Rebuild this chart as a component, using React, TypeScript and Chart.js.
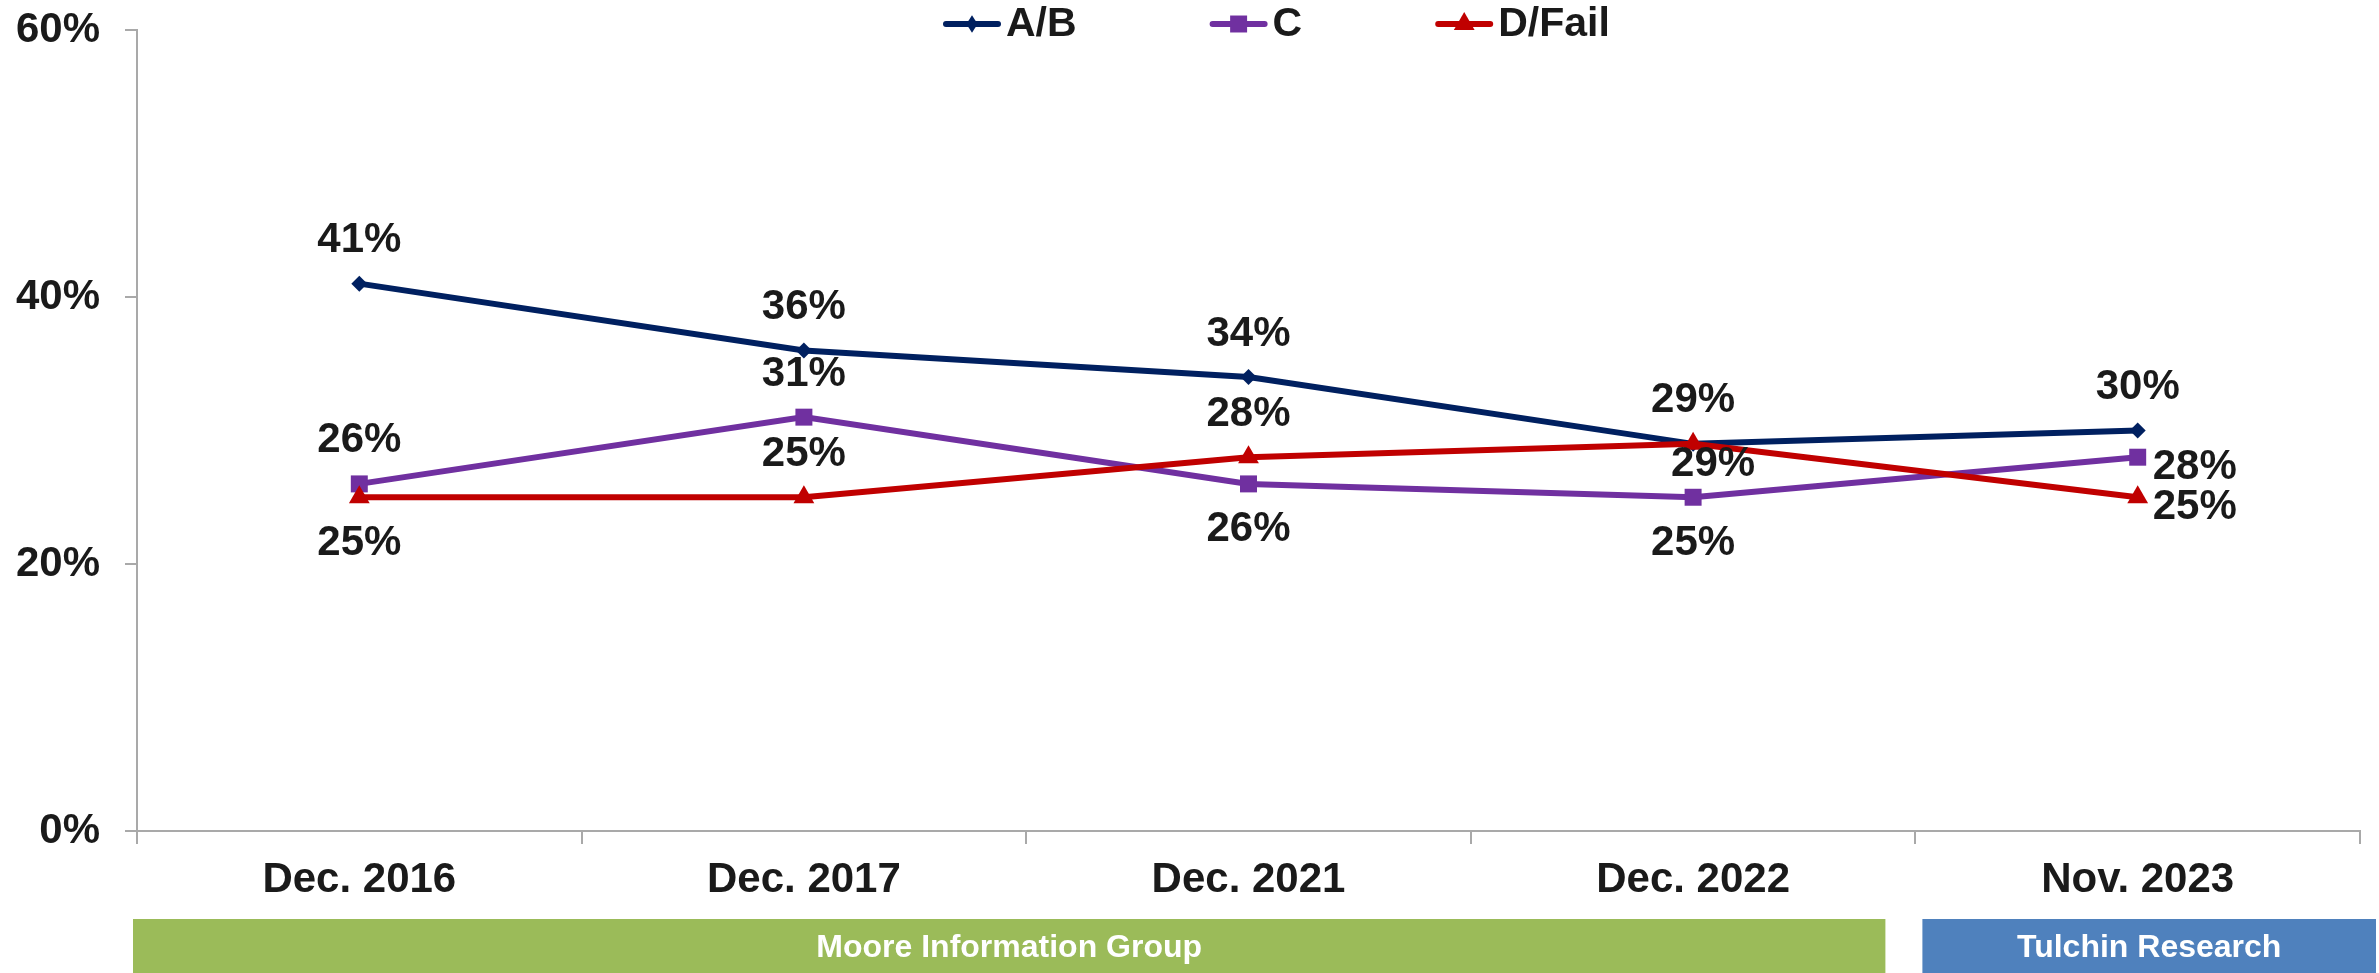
import React, { useEffect, useRef } from 'react';
import { Chart, registerables } from 'chart.js';

Chart.register(...registerables);

// ---------- data ----------
const categories = ['Dec. 2016', 'Dec. 2017', 'Dec. 2021', 'Dec. 2022', 'Nov. 2023'];
const seriesNames = ['A/B', 'C', 'D/Fail'];
const abValues = [41, 36, 34, 29, 30];
const cValues = [26, 31, 26, 25, 28];
const dFailValues = [25, 25, 28, 29, 25];
const yTickValues = [0, 20, 40, 60];

// label placement per point (above / below / right / belowRight)
const abLabelPlacement = ['above', 'above', 'above', 'above', 'above'];
const cLabelPlacement = ['above', 'above', 'below', 'below', 'right'];
const dFailLabelPlacement = ['below', 'above', 'above', 'belowRight', 'right'];

// source bands under the axis (category index ranges)
const sourceLabels = ['Moore Information Group', 'Tulchin Research'];
const sourceFrom = [0, 4];
const sourceTo = [3, 4];

// ---------- styles ----------
const FONT = '"Liberation Sans", Arial, Helvetica, sans-serif';
const TEXT = '#1a1a1a';
const AXIS = '#a9a9a9';
const seriesColors = ['#002060', '#7030A0', '#C00000'];
const seriesStyles = ['rectRot', 'rect', 'triangle'];
const seriesRadius = [8, 12, 12];
const bandColors = ['#9BBB59', '#4F81BD'];

function drawMarker(ctx: CanvasRenderingContext2D, style: string, x: number, y: number, r: number, color: string) {
  ctx.save();
  ctx.fillStyle = color;
  ctx.beginPath();
  if (style === 'rectRot') {
    ctx.moveTo(x - r * 0.7, y);
    ctx.lineTo(x, y - r * 1.08);
    ctx.lineTo(x + r * 0.7, y);
    ctx.lineTo(x, y + r * 1.08);
  } else if (style === 'rect') {
    const s = Math.SQRT1_2 * r;
    ctx.rect(x - s, y - s, 2 * s, 2 * s);
  } else {
    const a = (2 * Math.PI) / 3;
    ctx.moveTo(x, y - r);
    ctx.lineTo(x + Math.sin(a) * r, y - Math.cos(a) * r);
    ctx.lineTo(x + Math.sin(2 * a) * r, y - Math.cos(2 * a) * r);
  }
  ctx.closePath();
  ctx.fill();
  ctx.restore();
}

const legendPlugin = {
  id: 'customLegend',
  afterDraw(chart: any) {
    const ctx: CanvasRenderingContext2D = chart.ctx;
    ctx.save();
    ctx.font = `bold 41px ${FONT}`;
    ctx.textBaseline = 'middle';
    ctx.textAlign = 'left';
    let x = 943;
    const cy = 24;
    seriesNames.forEach((name, i) => {
      ctx.strokeStyle = seriesColors[i];
      ctx.lineWidth = 6;
      ctx.lineCap = 'round';
      ctx.beginPath();
      ctx.moveTo(x + 3, cy);
      ctx.lineTo(x + 55, cy);
      ctx.stroke();
      drawMarker(ctx, seriesStyles[i], x + 29, cy, seriesRadius[i], seriesColors[i]);
      ctx.fillStyle = TEXT;
      ctx.fillText(name, x + 63, cy + 1);
      x += 63 + ctx.measureText(name).width + 133;
    });
    ctx.restore();
  },
};

const labelPlugin = {
  id: 'pointLabels',
  afterDatasetsDraw(chart: any) {
    const ctx: CanvasRenderingContext2D = chart.ctx;
    const placements = [abLabelPlacement, cLabelPlacement, dFailLabelPlacement];
    ctx.save();
    ctx.font = `bold 42px ${FONT}`;
    ctx.fillStyle = TEXT;
    ctx.textBaseline = 'middle';
    chart.data.datasets.forEach((ds: any, d: number) => {
      const meta = chart.getDatasetMeta(d);
      meta.data.forEach((pt: any, i: number) => {
        const txt = `${ds.data[i]}%`;
        const pl = placements[d][i];
        let x = pt.x;
        let y = pt.y;
        ctx.textAlign = 'center';
        if (pl === 'above') y -= 43;
        else if (pl === 'below') y += 46;
        else if (pl === 'right') {
          ctx.textAlign = 'left';
          x += 15;
          y += 10;
        } else if (pl === 'belowRight') {
          x += 20;
          y += 21;
        }
        ctx.fillText(txt, x, y);
      });
    });
    ctx.restore();
  },
};

const bandPlugin = {
  id: 'sourceBands',
  afterDraw(chart: any) {
    const ctx: CanvasRenderingContext2D = chart.ctx;
    const xs = chart.scales.x;
    const step = xs.getPixelForValue(1) - xs.getPixelForValue(0);
    const top = 919;
    const bottom = chart.height;
    ctx.save();
    ctx.font = `bold 32px ${FONT}`;
    ctx.textAlign = 'center';
    ctx.textBaseline = 'middle';
    sourceLabels.forEach((label, i) => {
      const leftEdge = xs.getPixelForValue(sourceFrom[i]) - step / 2;
      const rightEdge = xs.getPixelForValue(sourceTo[i]) + step / 2;
      const l = i === 0 ? leftEdge - 4 : leftEdge + 7;
      const r = i === 0 ? rightEdge - 30 : chart.width - 3;
      ctx.fillStyle = bandColors[i];
      ctx.fillRect(l, top, r - l, bottom - top);
      ctx.fillStyle = '#ffffff';
      ctx.fillText(label, (l + r) / 2, (top + bottom) / 2 + 2);
    });
    ctx.restore();
  },
};

export default function App() {
  const ref = useRef<HTMLCanvasElement>(null);

  useEffect(() => {
    document.body.style.margin = '0';
    document.body.style.overflow = 'hidden';
    const values = [abValues, cValues, dFailValues];
    const chart = new Chart(ref.current as HTMLCanvasElement, {
      type: 'line',
      data: {
        labels: categories,
        datasets: seriesNames.map((name, i) => ({
          label: name,
          data: values[i],
          borderColor: seriesColors[i],
          backgroundColor: seriesColors[i],
          borderWidth: 6,
          tension: 0,
          fill: false,
          pointStyle: seriesStyles[i] as any,
          pointRadius: seriesRadius[i],
          pointBorderWidth: 0,
          pointBackgroundColor: seriesColors[i],
          pointBorderColor: seriesColors[i],
          order: 2 - i,
        })),
      },
      options: {
        responsive: false,
        maintainAspectRatio: false,
        animation: false,
        layout: { padding: { top: 30, right: 19, left: 0, bottom: 0 } },
        plugins: {
          legend: { display: false },
          tooltip: { enabled: false },
        },
        scales: {
          x: {
            type: 'category',
            offset: true,
            grid: {
              display: true,
              drawOnChartArea: false,
              drawTicks: true,
              tickLength: 13,
              offset: true,
              color: AXIS,
              lineWidth: 2,
            },
            border: { display: true, color: AXIS, width: 2 },
            ticks: {
              font: { family: FONT, size: 42, weight: 'bold', lineHeight: 1 },
              color: TEXT,
              padding: 15,
              maxRotation: 0,
              autoSkip: false,
            },
            afterFit: (s: any) => {
              s.height = 142;
            },
          },
          y: {
            min: yTickValues[0],
            max: yTickValues[yTickValues.length - 1],
            afterBuildTicks: (s: any) => {
              s.ticks = yTickValues.map((v) => ({ value: v }));
            },
            grid: {
              display: true,
              drawOnChartArea: false,
              drawTicks: true,
              tickLength: 12,
              color: AXIS,
              lineWidth: 2,
            },
            border: { display: true, color: AXIS, width: 2 },
            ticks: {
              font: { family: FONT, size: 42, weight: 'bold', lineHeight: 1 },
              color: TEXT,
              padding: 25,
              callback: (v: any) => `${v}%`,
            },
            afterFit: (s: any) => {
              s.width = 137;
              s.paddingTop = 0;
              s.paddingBottom = 0;
            },
          },
        },
      } as any,
      plugins: [labelPlugin, legendPlugin, bandPlugin],
    });
    return () => chart.destroy();
  }, []);

  return (
    <div style={{ width: 2379, height: 973, position: 'relative' }}>
      <canvas ref={ref} width={2379} height={973} style={{ display: 'block', width: 2379, height: 973 }} />
    </div>
  );
}
